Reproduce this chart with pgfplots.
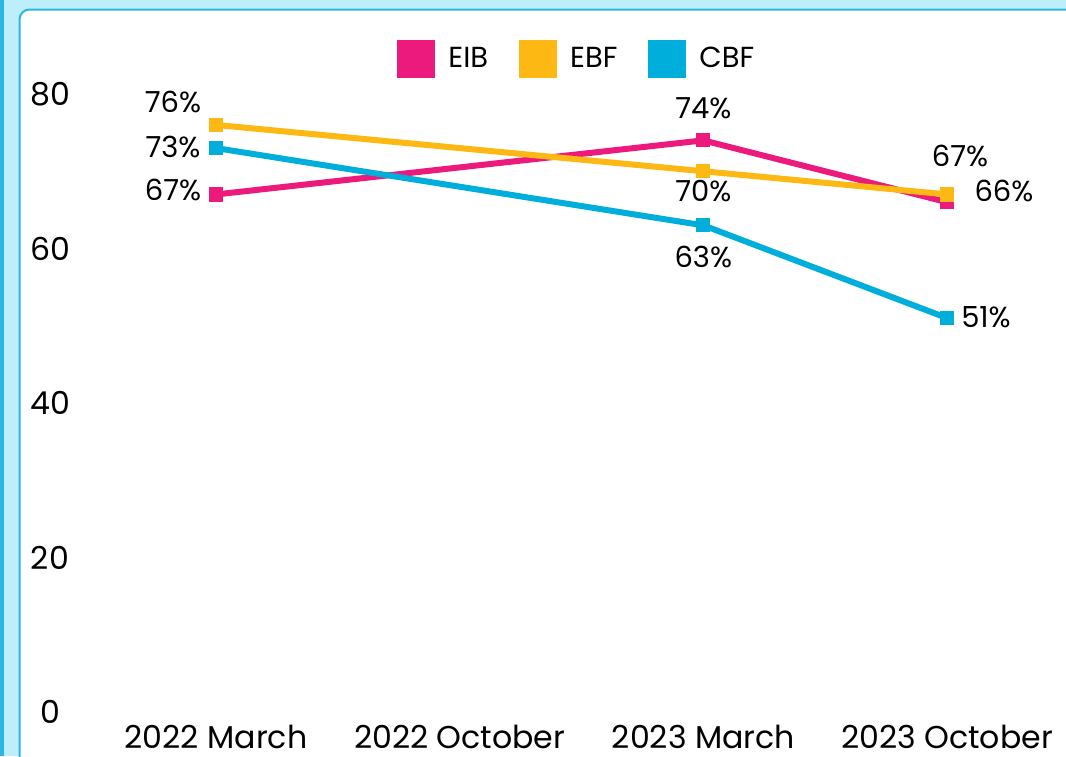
\documentclass[border=0pt]{standalone}
\usepackage{fontspec}
\setmainfont{Poppins}
\usepackage{pgfplots}
\usepackage{pgfplotstable}
\pgfplotsset{compat=1.18}

\definecolor{eib}{HTML}{EC1A7C}
\definecolor{ebf}{HTML}{FDB813}
\definecolor{cbf}{HTML}{00AEDB}
\definecolor{bgc}{HTML}{BDEEFB}
\definecolor{edge}{HTML}{2AB6E2}

% x: 0 = 2022 March, 1 = 2022 October, 2 = 2023 March, 3 = 2023 October
% dx, dy: label offsets in pt
\pgfplotstableread{
x y dx dy
0 67 -21.5 2
2 74 0 16
3 66 28.5 5.5
}\eibdata
\pgfplotstableread{
x y dx dy
0 76 -21.5 11.5
2 70 0 -10
3 67 6.5 19
}\ebfdata
\pgfplotstableread{
x y dx dy
0 73 -21.5 0.5
2 63 0 -16
3 51 19.5 0.5
}\cbfdata

\pgfplotsset{
  series/.style={
    #1, line width=3pt, mark=square*, mark size=3.3pt,
    mark options={line width=0pt, fill=#1, draw=#1},
    nodes near coords={\pgfmathprintnumber{\pgfplotspointmeta}\%},
    point meta=y,
    visualization depends on={\thisrow{dx} \as \dx},
    visualization depends on={\thisrow{dy} \as \dy},
    every node near coord/.append style={anchor=center, text=black,
      xshift=\dx pt, yshift=\dy pt, font=\fontsize{14.5}{16}\selectfont},
  }
}

\begin{document}
\begin{tikzpicture}[x=0.5pt,y=-0.5pt]
\useasboundingbox (0,0) rectangle (1066,756);
\clip (0,0) rectangle (1066,756);
\fill[bgc] (0,0) rectangle (1066,756);
\fill[edge] (0,0) rectangle (4,756);
\draw[edge, line width=1pt, fill=white, rounded corners=5pt] (19.5,9.5) rectangle (1120,820);

\begin{axis}[
  at={(108pt,-356pt)}, anchor=south west,
  scale only axis, width=365.5pt, height=309pt,
  xmin=0, xmax=3, ymin=0, ymax=80,
  clip=false,
  axis line style={draw=none},
  major tick length=0pt,
  xtick={0,1,2,3},
  xticklabels={2022 March, 2022 October, 2023 March, 2023 October},
  ytick={0,20,40,60,80},
  /pgf/number format/assume math mode=true,
  tick label style={font=\fontsize{15.8}{18}\selectfont, text=black},
  yticklabel style={anchor=center, xshift=-83pt},
  xticklabel style={anchor=base, yshift=-18pt},
  legend columns=3,
  legend style={at={(0.495,1.057)}, anchor=center, draw=none, fill=none,
    font=\fontsize{14.5}{17}\selectfont,
    /tikz/every odd column/.append style={column sep=4.5pt},
    /tikz/every even column/.append style={column sep=13.5pt}},
  legend image code/.code={\fill[#1, draw=none] (0pt,-9.5pt) rectangle (19pt,9.5pt);},
]
\addplot[series=eib] table[x=x, y=y] {\eibdata};
\addlegendentry{EIB}
\addplot[series=ebf] table[x=x, y=y] {\ebfdata};
\addlegendentry{EBF}
\addplot[series=cbf] table[x=x, y=y] {\cbfdata};
\addlegendentry{CBF}
\end{axis}
\end{tikzpicture}
\end{document}
